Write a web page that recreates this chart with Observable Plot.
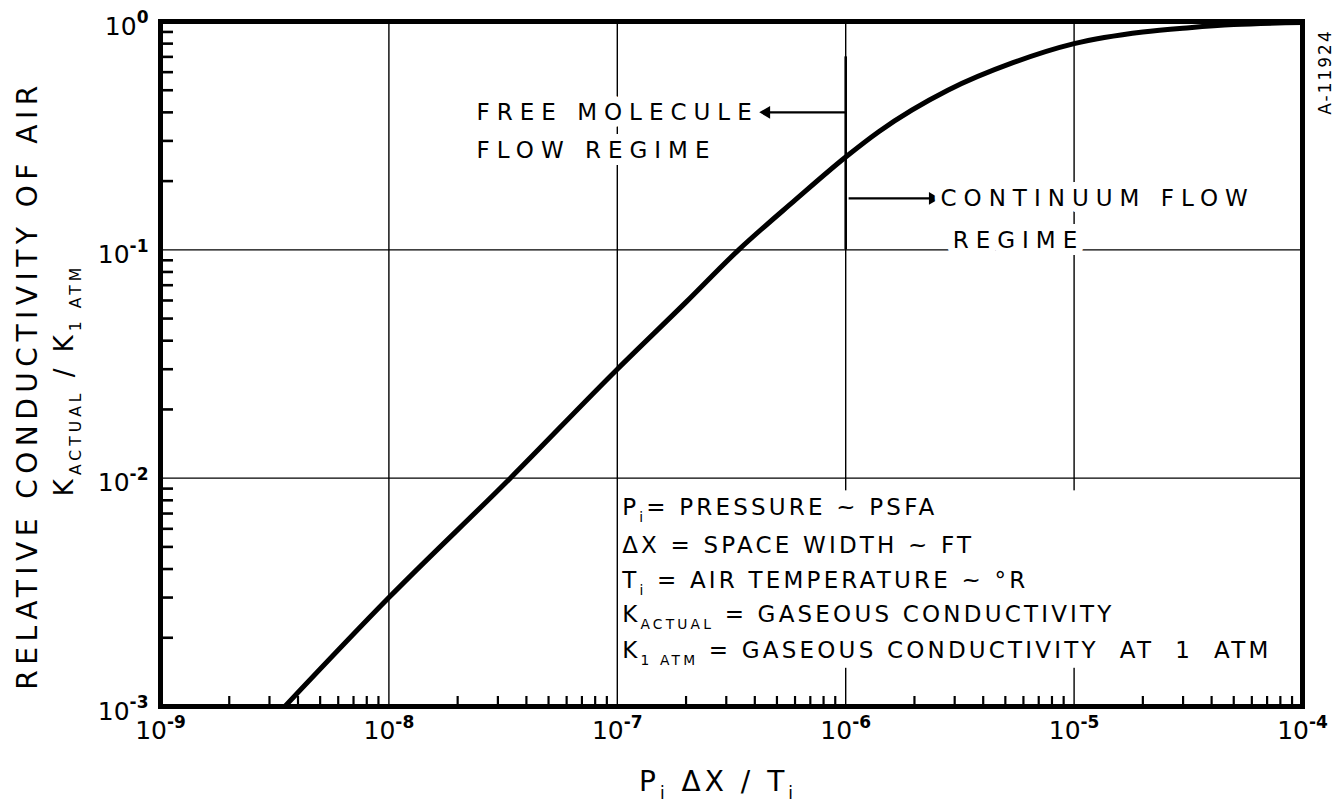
<!DOCTYPE html>
<html><head><meta charset="utf-8">
<script src="https://cdn.jsdelivr.net/npm/d3@7"></script>
<script src="https://cdn.jsdelivr.net/npm/@observablehq/plot@0.6"></script>
<style>
html,body{margin:0;padding:0;background:#fff;}
#chart svg{display:block;}
#chart text{white-space:pre;}
</style></head><body><div id="chart"></div>
<script>
// ---------- data ----------
const decadesX = [1e-9, 1e-8, 1e-7, 1e-6, 1e-5, 1e-4];
const xTickLabels = ["10^{-9}", "10^{-8}", "10^{-7}", "10^{-6}", "10^{-5}", "10^{-4}"];
const decadesY = [1e-3, 1e-2, 1e-1, 1];
const yTickLabels = ["10^{-3}", "10^{-2}", "10^{-1}", "10^{0}"];
const gridX = [1e-8, 1e-7, 1e-6, 1e-5];
const gridY = [1e-2, 1e-1];
const minorMultipliers = [2, 3, 4, 5, 6, 7, 8, 9];

// relative conductivity curve  (Pi*dX/Ti , K_actual/K_1atm)
const curveX = [3.5e-9, 1e-8, 3.4e-8, 1e-7, 2e-7, 3.4e-7, 6e-7, 1e-6, 1.4e-6, 2.8e-6, 5.4e-6, 1e-5, 2e-5, 3.2e-5, 5e-5, 1e-4];
const curveY = [1e-3, 3e-3, 1e-2, 0.03, 0.059, 0.1, 0.165, 0.255, 0.33, 0.50, 0.66, 0.80, 0.90, 0.94, 0.97, 0.99];

// regime boundary and annotations (data coordinates)
const regimeBoundary = [{x: 1e-6, y1: 0.1, y2: 0.7}];
const regimeArrows = [
  {x1: 1e-6, y1: 0.40, x2: 4.5e-7, y2: 0.40, dir: -1},
  {x1: 1.03e-6, y1: 0.168, x2: 2.4e-6, y2: 0.168, dir: 1}
];
const regimeLabels = [
  {x: 2.42e-8, y: 0.40, text: "FREE MOLECULE"},
  {x: 2.42e-8, y: 0.272, text: "FLOW REGIME"},
  {x: 2.6e-6, y: 0.168, text: "CONTINUUM FLOW"},
  {x: 2.94e-6, y: 0.110, text: "REGIME"}
];
const legendBox = [{x1: 1.17e-7, x2: 1e-4, y1: 1.47e-3, y2: 8.8e-3}];
const legendLines = [
  {x: 1.05e-7, y: 7.44e-3, text: "P_{i}= PRESSURE ~ PSFA"},
  {x: 1.05e-7, y: 5.07e-3, text: "ΔX = SPACE WIDTH ~ FT"},
  {x: 1.05e-7, y: 3.56e-3, text: "T_{i} = AIR TEMPERATURE ~ °R"},
  {x: 1.05e-7, y: 2.53e-3, text: "K_{ACTUAL} = GASEOUS CONDUCTIVITY"},
  {x: 1.05e-7, y: 1.76e-3, text: "K_{1 ATM} = GASEOUS CONDUCTIVITY  AT  1  ATM"}
];
const yTitle1 = "RELATIVE CONDUCTIVITY OF AIR";
const yTitle2 = "K_{ACTUAL} / K_{1 ATM}";
const xTitle = "P_{i} ΔX / T_{i}";
const figureId = "A-11924";

// ---------- derived ----------
const minorX = decadesX.slice(0, -1).flatMap(d => minorMultipliers.map(m => d * m));
const minorY = decadesY.slice(0, -1).flatMap(d => minorMultipliers.map(m => d * m));
const curve = curveX.map((x, i) => ({x, y: curveY[i]}));

const W = 1337, H = 802;
const M = {left: 160, right: 35, top: 21, bottom: 96};

const svg = Plot.plot({
  width: W, height: H,
  marginLeft: M.left, marginRight: M.right, marginTop: M.top, marginBottom: M.bottom,
  style: {fontFamily: "'DejaVu Sans', sans-serif", color: "black", background: "white"},
  x: {type: "log", domain: [1e-9, 1e-4]},
  y: {type: "log", domain: [1e-3, 1]},
  marks: [
    Plot.ruleX(gridX, {stroke: "black", strokeWidth: 1.4}),
    Plot.ruleY(gridY, {stroke: "black", strokeWidth: 1.4}),
    Plot.ruleX(regimeBoundary, {x: "x", y1: "y1", y2: "y2", stroke: "black", strokeWidth: 2.6}),
    Plot.rect(legendBox, {x1: "x1", x2: "x2", y1: "y1", y2: "y2", fill: "white"}),
    Plot.axisX({ticks: minorX, anchor: "bottom", tickSize: 10, dy: -10, tickFormat: () => "", strokeWidth: 2.2, label: null}),
    Plot.axisY({ticks: minorY, anchor: "left", tickSize: 13, dx: 13, tickFormat: () => "", strokeWidth: 2.6, label: null}),
    Plot.axisX({ticks: decadesX, anchor: "bottom", tickSize: 0, tickPadding: 15, fontSize: 25,
      tickFormat: d => xTickLabels[decadesX.indexOf(d)], label: null}),
    Plot.axisY({ticks: decadesY, anchor: "left", tickSize: 0, tickPadding: 12, fontSize: 25, dy: 5,
      tickFormat: d => yTickLabels[decadesY.indexOf(d)], label: null}),
    Plot.frame({stroke: "black", strokeWidth: 5}),
    Plot.line(curve, {x: "x", y: "y", stroke: "black", strokeWidth: 5, curve: "monotone-x", clip: true}),
    Plot.link(regimeArrows, {x1: "x1", y1: "y1", x2: "x2", y2: "y2", stroke: "black", strokeWidth: 2.2}),
    Plot.dot(regimeArrows, {x: "x2", y: "y2", symbol: "triangle2", r: 6, fill: "black", rotate: d => d.dir * 90}),
    Plot.text(regimeLabels, {x: "x", y: "y", text: "text", textAnchor: "start", fontSize: 23,
      stroke: "white", strokeWidth: 14, fill: "black"}),
    Plot.text(legendLines, {x: "x", y: "y", text: "text", textAnchor: "start", fontSize: 23,
      stroke: "white", strokeWidth: 6, fill: "black"})
  ]
});

document.getElementById("chart").appendChild(svg);
const root = d3.select(svg);

// letter spacing of the two annotation text marks (in mark order)
const textGroups = root.selectAll("g[aria-label='text']").nodes();
if (textGroups[0]) textGroups[0].style.letterSpacing = "7px";
if (textGroups[1]) textGroups[1].style.letterSpacing = "3.2px";

// axis titles and figure number
root.append("text").attr("transform", `translate(37,385) rotate(-90)`).attr("text-anchor", "middle")
  .attr("font-size", 28).style("letter-spacing", "5.5px").text(yTitle1);
root.append("text").attr("transform", `translate(73,380) rotate(-90)`).attr("text-anchor", "middle")
  .attr("font-size", 26).style("letter-spacing", "4px").text(yTitle2);
root.append("text").attr("transform", `translate(718,791)`).attr("text-anchor", "middle")
  .attr("font-size", 28).style("letter-spacing", "4px").text(xTitle);
root.append("text").attr("transform", `translate(${W - 6},72) rotate(-90)`).attr("text-anchor", "middle")
  .attr("font-size", 17).style("letter-spacing", "2px").text(figureId);

// rich text: _{sub} and ^{sup}
function rich(el) {
  const s = el.textContent;
  if (!/[_^]\{/.test(s)) return;
  const fs = parseFloat(getComputedStyle(el).fontSize);
  while (el.firstChild) el.removeChild(el.firstChild);
  const re = /([_^])\{([^}]*)\}/g;
  let last = 0, m, cur = 0;
  const add = (txt, off, small, bold) => {
    const t = document.createElementNS("http://www.w3.org/2000/svg", "tspan");
    t.textContent = txt;
    if (off !== cur) t.setAttribute("dy", off - cur);
    cur = off;
    if (small) t.setAttribute("font-size", small);
    if (bold) t.setAttribute("font-weight", "bold");
    el.appendChild(t);
  };
  while ((m = re.exec(s))) {
    if (m.index > last) add(s.slice(last, m.index), 0);
    if (m[1] === "_") add(m[2], 0.3 * fs, 0.6 * fs, false);
    else add(m[2], -0.45 * fs, 0.68 * fs, true);
    last = re.lastIndex;
  }
  if (last < s.length) add(s.slice(last), 0);
}
root.selectAll("text").each(function() { rich(this); });
</script></body></html>
